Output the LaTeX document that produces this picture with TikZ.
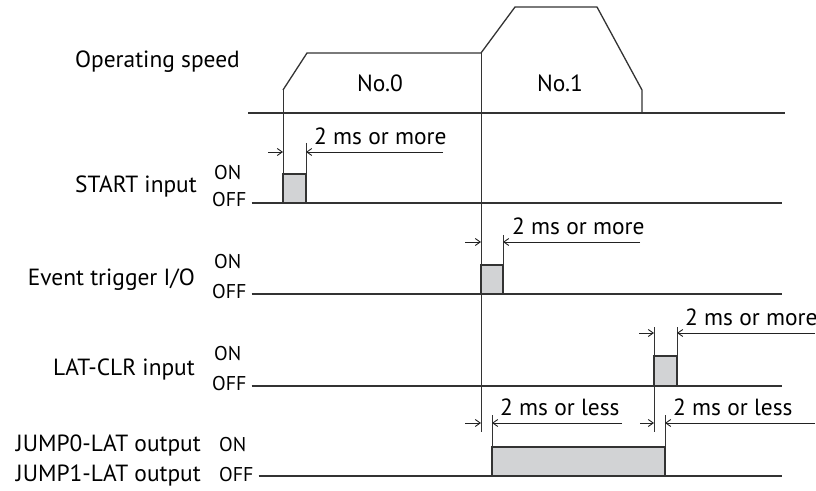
\documentclass[tikz,border=0pt]{standalone}
\usepackage{fontspec}
\setmainfont{PT Sans}
\usepackage{tikz}
\usetikzlibrary{arrows.meta, positioning, calc}
\definecolor{sigLine}{HTML}{333333}
\definecolor{sigFill}{HTML}{D2D3D5}
\definecolor{dimLine}{HTML}{222222}
\tikzset{
  sig/.style={draw=sigLine, line width=1.3bp},
  pulse/.style={draw=sigLine, fill=sigFill, line width=1.3bp},
  guide/.style={draw=sigLine, line width=0.9bp},
  dimA/.style={-{Straight Barb[length=5bp,width=7bp]}, draw=dimLine, line width=0.9bp},
  lbl/.style={anchor=east, inner sep=0pt, font=\fontsize{23.5}{28}\selectfont},
  lvl/.style={anchor=west, inner sep=0pt, font=\fontsize{20}{24}\selectfont},
  note/.style={anchor=south west, inner sep=0pt, font=\fontsize{23.5}{28}\selectfont},
}

\begin{document}
\begin{tikzpicture}[x=1bp, y=-1bp]
  \useasboundingbox (0,0) rectangle (816,491);
  % labels
  \node[lbl] (spd) at (240,62) {Operating speed};
  \node[lbl] (st) at (197,187) {START input};
  \node[lvl] (stOn) at (214,173) {ON};
  \node[lvl] (stOff) at (212,200) {OFF};
  \node[lbl] (ev) at (195,280) {Event trigger I/O};
  \node[lvl] (evOn) at (214,262) {ON};
  \node[lvl] (evOff) at (212,292) {OFF};
  \node[lbl] (lc) at (195,370) {LAT-CLR input};
  \node[lvl] (lcOn) at (214,354) {ON};
  \node[lvl] (lcOff) at (212,384) {OFF};
  \node[lbl] (j0) at (201,446) {JUMP0-LAT output};
  \node[lbl] (j1) at (201,476) {JUMP1-LAT output};
  \node[lvl] (jOn) at (219,445) {ON};
  \node[lvl] (jOff) at (219,475) {OFF};
  \node[lbl, anchor=center] (n0) at (380,83) {No.0};
  \node[lbl, anchor=center] (n1) at (560,83) {No.1};

  % operating speed
  \draw[sig] (248,113) -- (785,113);
  \draw[sig] (283,90) -- (307,53) -- (481,53) -- (515,7) -- (597,7) -- (642,90) -- (642,113);

  % START input
  \draw[pulse] (283,174) rectangle (306,203);
  \draw[sig] ($(stOff.east)+(5,3)$) -- (283,203);
  \draw[sig] (306,203) -- (782,203);
  \draw[guide] (283,90) -- (283,203);
  \draw[guide] (306,143) -- (306,203);

  % Event trigger I/O
  \draw[pulse] (481,265) rectangle (503,294);
  \draw[sig] ($(evOff.east)+(5,2)$) -- (481,294);
  \draw[sig] (503,294) -- (782,294);
  \draw[guide] (481,53) -- (481,432);
  \draw[guide] (503,235) -- (503,294);

  % LAT-CLR input
  \draw[pulse] (654,356) rectangle (677,386);
  \draw[sig] ($(lcOff.east)+(5,2)$) -- (654,386);
  \draw[sig] (677,386) -- (782,386);
  \draw[guide] (654,327) -- (654,432);
  \draw[guide] (677,327) -- (677,386);

  % JUMP0/JUMP1-LAT output
  \draw[pulse] (492,447) rectangle (665,476);
  \draw[sig] ($(jOff.east)+(5,1)$) -- (492,476);
  \draw[sig] (665,476) -- (782,476);
  \draw[guide] (492,415) -- (492,476);
  \draw[guide] (665,415) -- (665,476);

  % timing marks
  \coordinate (sA) at (283,152); \coordinate (sB) at (306,152);
  \draw[dimA] (268,152) -- (sA);
  \draw[dimA] (443,152) -- (sB);
  \node[note] (tS) at (314,145) {2 ms or more};

  \coordinate (eA) at (481,242); \coordinate (eB) at (503,242);
  \draw[dimA] (465,242) -- (eA);
  \draw[dimA] (640,242) -- (eB);
  \node[note] (tE) at (512,235) {2 ms or more};

  \coordinate (cA) at (654,333); \coordinate (cB) at (677,333);
  \draw[dimA] (639,333) -- (cA);
  \draw[dimA] (815,333) -- (cB);
  \node[note] (tC) at (685,326) {2 ms or more};

  \coordinate (jA) at (481,423); \coordinate (jB) at (492,423);
  \draw[dimA] (465,423) -- (jA);
  \draw[dimA] (622,423) -- (jB);
  \node[note] (tJ0) at (500,416) {2 ms or less};

  \coordinate (jC) at (654,423); \coordinate (jD) at (665,423);
  \draw[dimA] (640,423) -- (jC);
  \draw[dimA] (815,423) -- (jD);
  \node[note] (tJ1) at (673,416) {2 ms or less};
\end{tikzpicture}
\end{document}
